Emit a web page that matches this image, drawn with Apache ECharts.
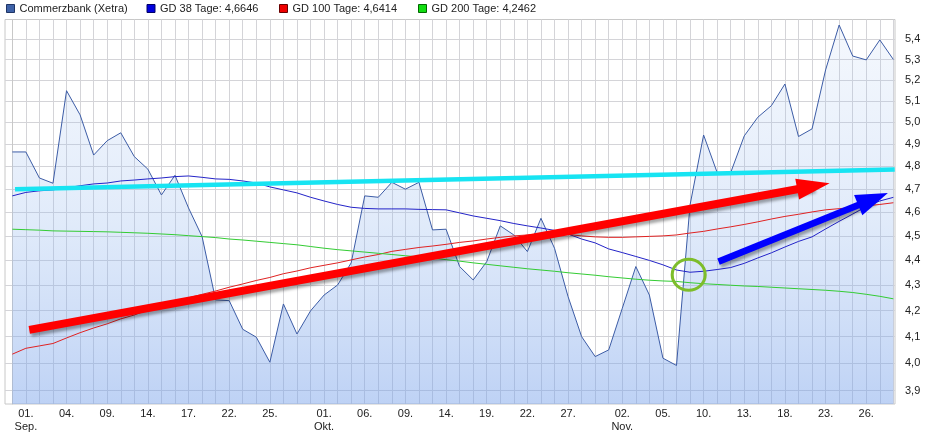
<!DOCTYPE html>
<html><head><meta charset="utf-8">
<script src="https://cdn.jsdelivr.net/npm/echarts@6/dist/echarts.min.js"></script>
<style>html,body{margin:0;padding:0;background:#fff}#c{width:943px;height:434px}</style>
</head><body><div id="c"></div>
<script>
// trading days 31.08.2020 - 30.11.2020
const dates = ['31.08.','01.09.','02.09.','03.09.','04.09.','07.09.','08.09.','09.09.','10.09.','11.09.','14.09.','15.09.','16.09.','17.09.','18.09.','21.09.','22.09.','23.09.','24.09.','25.09.','28.09.','29.09.','30.09.','01.10.','02.10.','05.10.','06.10.','07.10.','08.10.','09.10.','12.10.','13.10.','14.10.','15.10.','16.10.','19.10.','20.10.','21.10.','22.10.','23.10.','26.10.','27.10.','28.10.','29.10.','30.10.','02.11.','03.11.','04.11.','05.11.','06.11.','09.11.','10.11.','11.11.','12.11.','13.11.','16.11.','17.11.','18.11.','19.11.','20.11.','23.11.','24.11.','25.11.','26.11.','27.11.','30.11.'];
const labelDates = ['01.09.','04.09.','09.09.','14.09.','17.09.','22.09.','25.09.','01.10.','06.10.','09.10.','14.10.','19.10.','22.10.','27.10.','02.11.','05.11.','10.11.','13.11.','18.11.','23.11.','26.11.'];
const monthNames = {'09':'Sep.','10':'Okt.','11':'Nov.'};
const yTicks = [3.9,4.0,4.1,4.2,4.3,4.4,4.5,4.6,4.7,4.8,4.9,5.0,5.1,5.2,5.3,5.4];

const price = [4.865,4.865,4.749,4.726,5.149,5.035,4.851,4.916,4.952,4.844,
4.788,4.675,4.761,4.619,4.498,4.242,4.239,4.128,4.098,4.004,
4.226,4.110,4.199,4.261,4.301,4.390,4.671,4.665,4.730,4.700,
4.730,4.526,4.529,4.375,4.321,4.395,4.543,4.505,4.436,4.575,
4.450,4.255,4.100,4.025,4.050,4.209,4.375,4.261,4.019,3.992,
4.632,4.942,4.773,4.773,4.938,5.024,5.078,5.181,4.935,4.970,
5.249,5.472,5.317,5.298,5.397,5.300];

const gd38 = [4.671,4.686,4.693,4.697,4.706,4.715,4.723,4.727,4.736,4.740,
4.745,4.749,4.755,4.758,4.752,4.745,4.743,4.736,4.727,4.710,
4.697,4.684,4.665,4.649,4.634,4.622,4.617,4.615,4.615,4.615,
4.613,4.612,4.611,4.598,4.585,4.575,4.565,4.553,4.543,4.534,
4.524,4.509,4.488,4.472,4.447,4.432,4.416,4.400,4.382,4.361,
4.352,4.356,4.363,4.371,4.388,4.410,4.431,4.455,4.478,4.497,
4.530,4.562,4.593,4.625,4.649,4.6646];

const gd100 = [4.034,4.056,4.065,4.074,4.095,4.115,4.133,4.149,4.168,4.183,
4.203,4.218,4.234,4.250,4.264,4.277,4.292,4.305,4.319,4.331,
4.346,4.357,4.370,4.380,4.390,4.402,4.414,4.424,4.437,4.445,
4.453,4.459,4.466,4.474,4.480,4.488,4.495,4.501,4.505,4.509,
4.511,4.507,4.501,4.497,4.495,4.495,4.497,4.499,4.501,4.505,
4.513,4.520,4.530,4.539,4.549,4.560,4.572,4.583,4.592,4.602,
4.611,4.616,4.621,4.628,4.634,4.6414];

const gd200 = [4.529,4.527,4.525,4.522,4.521,4.520,4.519,4.518,4.516,4.514,
4.512,4.509,4.506,4.502,4.498,4.494,4.488,4.484,4.479,4.474,
4.469,4.464,4.457,4.450,4.444,4.439,4.434,4.429,4.424,4.419,
4.414,4.409,4.403,4.397,4.390,4.384,4.378,4.372,4.366,4.361,
4.356,4.350,4.345,4.340,4.334,4.329,4.324,4.320,4.317,4.315,
4.310,4.306,4.303,4.300,4.297,4.295,4.292,4.289,4.286,4.283,
4.280,4.276,4.271,4.264,4.256,4.2462];

// hand-drawn annotations (x = trading-day index, y = price)
const cyanLine = [[0.2, 4.700], [65.1, 4.787]];
const redArrow = [[1.25, 4.126], [59.1, 4.713]];
const blueArrow = [[52.1, 4.395], [63.5, 4.657]];
const greenCircle = [49.9, 4.342];

const fmt = v => v.toFixed(4).replace('.', ',');
const names = ['Commerzbank (Xetra)',
  'GD 38 Tage: ' + fmt(gd38[gd38.length-1]),
  'GD 100 Tage: ' + fmt(gd100[gd100.length-1]),
  'GD 200 Tage: ' + fmt(gd200[gd200.length-1])];

const labelIdx = [];
const labelText = {};
const seenMonth = {};
labelDates.forEach(d => {
  const i = dates.indexOf(d);
  const m = d.slice(3,5);
  let t = d.slice(0,3);
  if (!seenMonth[m]) { seenMonth[m] = true; t += '\n' + monthNames[m]; }
  labelIdx.push(i); labelText[i] = t;
});
const allIdx = dates.map((d,i) => i);
const toXY = arr => arr.map((v,i) => [i, v]);

const FONT = 'Liberation Sans, Arial, sans-serif';
const legendIcons = [
  {left: 6, color: '#3e62a8', border: '#1f3566'},
  {left: 146.5, color: '#0000dd', border: '#000066'},
  {left: 279, color: '#ee0000', border: '#660000'},
  {left: 418, color: '#11dd11', border: '#006600'}
];

const chart = echarts.init(document.getElementById('c'), null, {renderer: 'canvas'});
const arrowShadow = {shadowColor: 'rgba(0,0,0,0.35)', shadowBlur: 3, shadowOffsetX: 2, shadowOffsetY: 3};

chart.setOption({
  animation: false,
  backgroundColor: '#ffffff',
  textStyle: {fontFamily: FONT},
  legend: legendIcons.map((l, k) => ({
    data: [{name: names[k], itemStyle: {color: l.color, borderColor: l.border, borderWidth: 1}}],
    left: l.left, top: 3, padding: 0,
    itemWidth: 8, itemHeight: 8, icon: 'rect',
    selectedMode: false,
    textStyle: {fontSize: 11, color: '#222', fontFamily: FONT}
  })),
  grid: {left: 5, right: 48, top: 19.5, bottom: 30, show: true, borderColor: '#c8c8c8', borderWidth: 1},
  xAxis: {
    type: 'value', min: -0.54, max: 65.12,
    axisLine: {show: false},
    axisTick: {show: false, customValues: allIdx},
    splitLine: {show: true, lineStyle: {color: '#d4d4d8', width: 1}},
    axisLabel: {customValues: labelIdx, formatter: v => labelText[Math.round(v)] || '',
      fontSize: 11, color: '#222', lineHeight: 13, margin: 3, fontFamily: FONT}
  },
  yAxis: {
    type: 'log', logBase: 10, min: 3.852, max: 5.5, position: 'right', offset: 7,
    axisLine: {show: true, lineStyle: {color: '#c8c8c8'}},
    axisTick: {show: false, customValues: yTicks},
    splitLine: {show: true, lineStyle: {color: '#d4d4d8', width: 1}},
    axisLabel: {customValues: yTicks, formatter: v => v.toFixed(1).replace('.', ','),
      fontSize: 11, color: '#222', margin: 3, fontFamily: FONT}
  },
  series: [
    {name: names[0], type: 'line', data: toXY(price), showSymbol: false, symbol: 'none',
     lineStyle: {color: '#3c5ca6', width: 1}, itemStyle: {color: '#3e62a8'},
     areaStyle: {origin: 'start', color: new echarts.graphic.LinearGradient(0,0,0,1,[
       {offset: 0, color: 'rgba(170,198,240,0.18)'},
       {offset: 0.5, color: 'rgba(150,185,238,0.4)'},
       {offset: 1, color: 'rgba(118,160,234,0.68)'}])},
     z: 2},
    {name: names[1], type: 'line', data: toXY(gd38), showSymbol: false, symbol: 'none',
     lineStyle: {color: '#2323c8', width: 1}, itemStyle: {color: '#0000dd'}, z: 3},
    {name: names[2], type: 'line', data: toXY(gd100), showSymbol: false, symbol: 'none',
     lineStyle: {color: '#e02222', width: 1}, itemStyle: {color: '#ee0000'}, z: 3},
    {name: names[3], type: 'line', data: toXY(gd200), showSymbol: false, symbol: 'none',
     lineStyle: {color: '#33cc33', width: 1}, itemStyle: {color: '#11dd11'}, z: 3},
    {type: 'line', data: [], z: 5,
     markLine: {silent: true, animation: false, symbol: ['none','none'], label: {show: false},
       lineStyle: {color: '#17e4f2', width: 4.5, type: 'solid'},
       data: [[{coord: cyanLine[0]}, {coord: cyanLine[1]}]]}},
    {type: 'line', data: [], z: 6,
     markLine: {silent: true, animation: false, symbol: ['none','none'], label: {show: false},
       lineStyle: Object.assign({color: '#ff0000', width: 8, type: 'solid'}, arrowShadow),
       data: [[{coord: redArrow[0]}, {coord: redArrow[1], symbol: 'triangle', symbolSize: [21, 33]}]]}},
    {type: 'line', data: [], z: 6,
     markLine: {silent: true, animation: false, symbol: ['none','none'], label: {show: false},
       lineStyle: Object.assign({color: '#0000ff', width: 6.5, type: 'solid'}, arrowShadow),
       data: [[{coord: blueArrow[0]}, {coord: blueArrow[1], symbol: 'triangle', symbolSize: [22, 32]}]]}},
    {type: 'line', data: [], z: 6,
     markPoint: {silent: true, animation: false, symbol: 'circle', symbolSize: [33, 31], label: {show: false},
       itemStyle: {color: 'rgba(0,0,0,0)', borderColor: '#7dbd2a', borderWidth: 3},
       data: [{coord: greenCircle}]}}
  ]
});
</script></body></html>
